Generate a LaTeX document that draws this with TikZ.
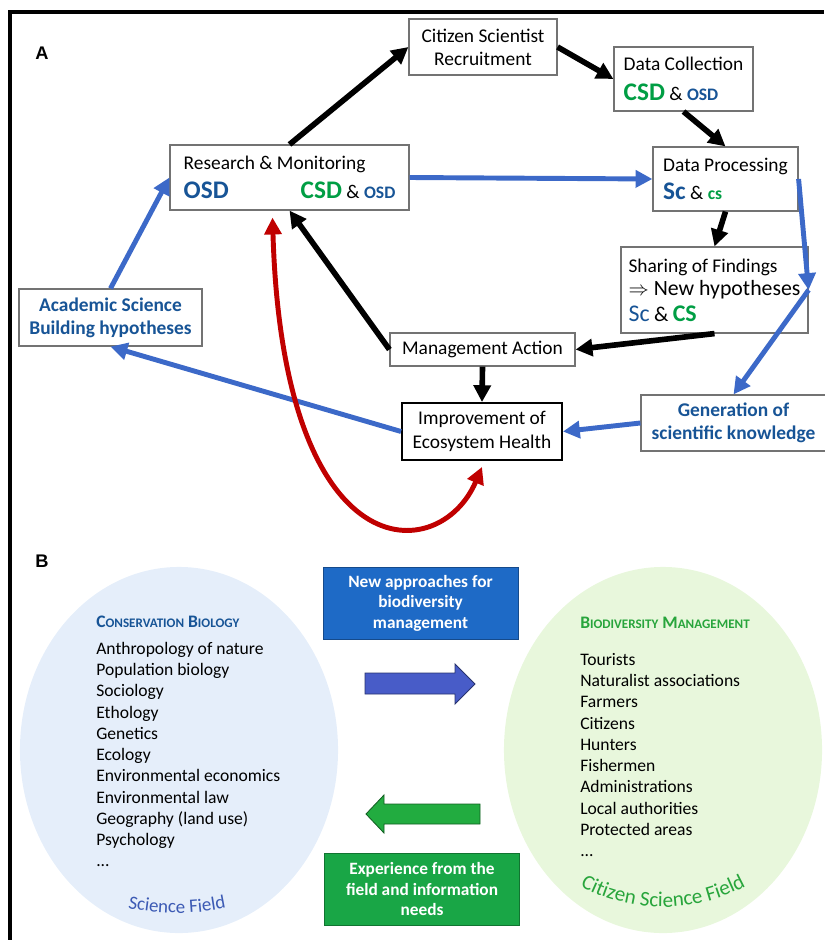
\documentclass[tikz,border=0pt]{standalone}
\usepackage{fontspec}
\setmainfont{Carlito}
\newfontfamily\arialfont{Liberation Sans}
\usetikzlibrary{calc,arrows.meta,decorations.text}

\definecolor{azulosc}{RGB}{23,84,150}
\definecolor{verde}{RGB}{0,158,68}
\definecolor{azulflecha}{RGB}{60,105,200}
\definecolor{rojo}{RGB}{192,0,0}
\definecolor{azulclaro}{RGB}{229,238,250}
\definecolor{verdeclaro}{RGB}{232,247,220}
\definecolor{azulrect}{RGB}{30,106,198}
\definecolor{verderect}{RGB}{25,166,70}
\definecolor{azulbloque}{RGB}{72,92,200}
\definecolor{verdebloque}{RGB}{34,172,64}
\definecolor{azulcampo}{RGB}{60,90,180}
\definecolor{verdecampo}{RGB}{40,165,60}

\newcommand*\grande[2]{{\fontsize{18}{20}\selectfont\bfseries\color{#1}#2}}
\newcommand*\chico[2]{{\fontsize{12.5}{15}\selectfont\bfseries\color{#1}#2}}
\newcommand*\versal[1]{{\fontsize{9.3}{12}\selectfont #1}}

\begin{document}
\begin{tikzpicture}[
	x=0.025cm, y=-0.025cm,
	>={Triangle[length=12pt,width=12pt]},
	micaja/.style ={draw=gray!90!black, line width=0.8pt, fill=white, inner sep=0pt, font=\fontsize{13.8}{16.5}\selectfont},
	mitexto/.style ={font=\fontsize{13.8}{16.5}\selectfont\bfseries, text=azulosc},
	mifnegra/.style ={->, line width=4pt, color=black},
	mifazul/.style ={->, line width=3.5pt, color=azulflecha},
	mifroja/.style ={<->, line width=3.5pt, color=rojo},
	milista/.style ={anchor=north west, align=left, inner sep=0pt, font=\fontsize{12.5}{15.1}\selectfont},
	mirect/.style ={minimum width=4.875cm, minimum height=1.8cm, align=center, text=white, line width=0.6pt, font=\fontsize{12.3}{14.5}\selectfont\bfseries}]

	\useasboundingbox (0,0) rectangle (824,940);

	% frame
	\draw[line width=2.5pt] (10,940) -- (10,12) -- (824,12);

	\node[font=\arialfont\bfseries\fontsize{13}{15}\selectfont] (etiqA) at (42,53.5) {A};
	\node[font=\arialfont\bfseries\fontsize{13}{15}\selectfont] (etiqB) at (42,561.5) {B};

	% part A
	\node[micaja, minimum width=3.7cm, minimum height=1.4cm, align=center] (reclut) at (483,47) {Citizen Scientist\\Recruitment};
	\node[micaja, minimum width=3.475cm, minimum height=1.6cm, align=left] (datcol) at (683.5,79) {Data Collection\\[5pt]\grande{verde}{CSD} \& \chico{azulosc}{OSD}};
	\node[micaja, minimum width=5.975cm, minimum height=1.625cm, align=left] (resmon) at (289.5,177.5) {Research \& Monitoring\\[4pt]\grande{azulosc}{OSD}\hspace{1.8cm}\grande{verde}{CSD} \& \chico{azulosc}{OSD}};
	\node[micaja, minimum width=3.625cm, minimum height=1.6cm, align=left] (datproc) at (725.5,179) {Data Processing\\[4pt]\grande{azulosc}{Sc} \& \chico{verde}{cs}};
	\node[micaja, minimum width=4.675cm, minimum height=2.15cm, align=left] (sharing) at (714.5,290) {Sharing of Findings\\{\fontsize{15.5}{18}\selectfont$\Rightarrow$ New hypotheses}\\[2pt]{\fontsize{17}{19}\selectfont\color{azulosc}Sc} {\fontsize{15}{19}\selectfont\&} {\fontsize{17}{19}\selectfont\bfseries\color{verde}CS}};
	\node[micaja, mitexto, minimum width=4.575cm, minimum height=1.425cm, align=center] (academ) at (110.5,317.5) {Academic Science\\Building hypotheses};
	\node[micaja, minimum width=4.625cm, minimum height=0.825cm] (mgmt) at (482.5,349.5) {Management Action};
	\node[micaja, draw=black, line width=1.3pt, minimum width=4cm, minimum height=1.425cm, align=center] (improv) at (482,431.5) {Improvement of\\Ecosystem Health};
	\node[micaja, mitexto, minimum width=4.625cm, minimum height=1.4cm, align=center] (genera) at (733.5,423) {Generation of\\scientific knowledge};

	\draw[mifnegra] (resmon.north) -- (reclut.west);
	\draw[mifnegra] (reclut.east) -- (datcol.west);
	\draw[mifnegra] (datcol.south) -- (datproc.north);
	\draw[mifnegra] (datproc.south) -- (sharing.north);
	\draw[mifnegra] (sharing.south) -- (mgmt.east);
	\draw[mifnegra] (mgmt.west) -- (resmon.south);
	\draw[mifnegra] (mgmt.south) -- (improv.north);

	\draw[mifazul] (resmon.east) -- (datproc.west);
	\draw[mifazul] (datproc.east) -- (sharing.east);
	\draw[mifazul] (sharing.east) -- (genera.north);
	\draw[mifazul] (genera.west) -- (improv.east);
	\draw[mifazul] (improv.west) -- (academ.south);
	\draw[mifazul] (academ.north) -- (resmon.west);

	\draw[mifroja] ($(resmon.south)+(-17,7)$) .. controls (283,574) and (440,566) .. ($(improv.south)+(0,6)$);

	% part B
	\fill[azulclaro] (179,750) ellipse [x radius=3.975cm, y radius=4.575cm];
	\fill[verdeclaro] (663,750) ellipse [x radius=3.975cm, y radius=4.575cm];

	\node[mirect, draw=azulrect!70!black, fill=azulrect] (nuevos) at (420.5,603) {New approaches for\\biodiversity\\management};
	\node[mirect, draw=verderect!70!black, fill=verderect] (experi) at (422,889) {Experience from the\\field and information\\needs};

	\filldraw[fill=azulbloque, draw=azulbloque!55!black, line width=0.6pt] (365,673) -- (455,673) -- (455,664) -- (475,684) -- (455,704) -- (455,694) -- (365,694) -- cycle;
	\filldraw[fill=verdebloque, draw=verdebloque!55!black, line width=0.6pt] (480,804) -- (384,804) -- (384,795) -- (366,814) -- (384,833) -- (384,824) -- (480,824) -- cycle;

	\node[anchor=base west, inner sep=0pt, text=azulosc, font=\fontsize{12.5}{15}\selectfont\bfseries] (titcons) at (96,627) {C\versal{ONSERVATION} B\versal{IOLOGY}};
	\node[milista] (listcons) at (96,642) {Anthropology of nature\\Population biology\\Sociology\\Ethology\\Genetics\\Ecology\\Environmental economics\\Environmental law\\Geography (land use)\\Psychology\\...};

	\node[anchor=base west, inner sep=0pt, text=verdecampo, font=\fontsize{12.5}{15}\selectfont\bfseries] (titbiod) at (580,628) {B\versal{IODIVERSITY} M\versal{ANAGEMENT}};
	\node[milista] (listbiod) at (580,653) {Tourists\\Naturalist associations\\Farmers\\Citizens\\Hunters\\Fishermen\\Administrations\\Local authorities\\Protected areas\\...};

	\path[postaction={decorate}, decoration={text along path, text align=center, text={|\fontsize{13.5}{15}\selectfont\color{azulcampo}|Science Field}}] (177,673) ++(250:6cm) arc[start angle=250, end angle=290, radius=6cm];
	\path[postaction={decorate}, decoration={text along path, text align=center, text={|\fontsize{15}{17}\selectfont\color{verdecampo}|Citizen Science Field}}] (663,733) ++(228:4.35cm) arc[start angle=228, end angle=312, radius=4.35cm];

\end{tikzpicture}
\end{document}
